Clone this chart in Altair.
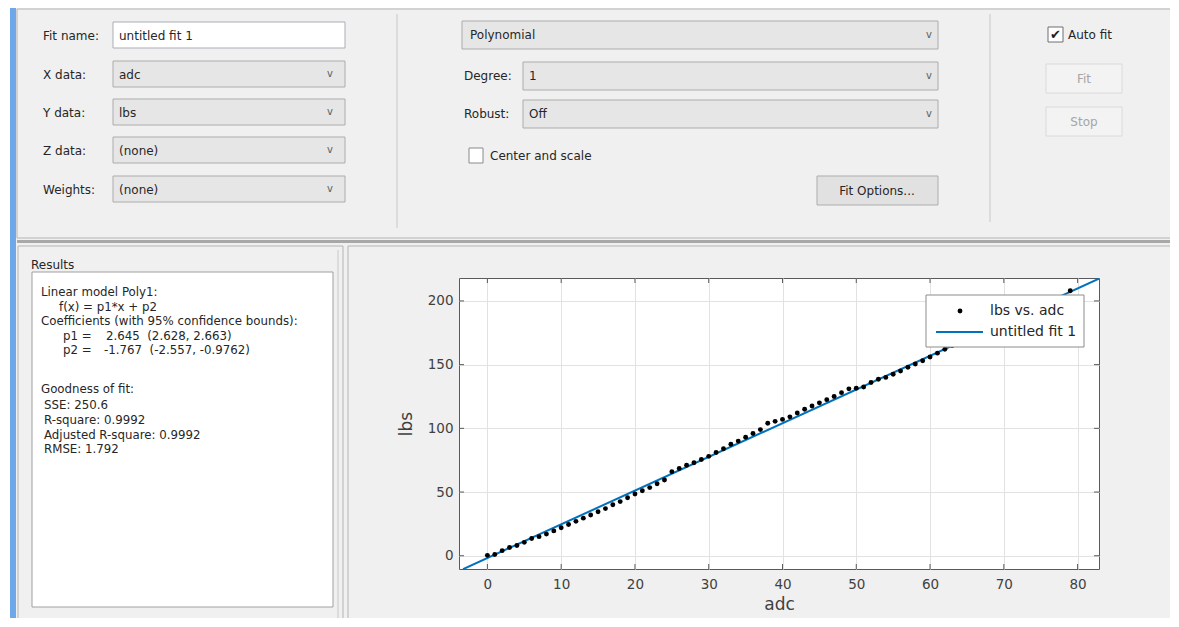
import altair as alt
import pandas as pd

# ---------------- data ----------------
adc = list(range(0, 64)) + [79]
lbs = [0.3, 1.0, 4.0, 6.5, 8.0, 10.5, 13.5, 15.0, 17.0, 19.5,
       22.0, 24.5, 27.0, 29.5, 32.0, 34.5, 37.0, 40.0, 42.5, 45.5,
       48.5, 51.0, 53.5, 56.5, 59.5, 66.0, 68.5, 71.0, 73.0, 75.5,
       78.0, 81.0, 84.0, 87.5, 90.0, 93.0, 96.0, 99.0, 104.0, 105.5,
       107.0, 109.0, 112.0, 115.0, 117.5, 120.0, 122.5, 125.0, 128.0, 131.0,
       131.5, 132.5, 136.0, 138.5, 140.0, 142.5, 145.0, 148.0, 150.5, 153.0,
       156.0, 159.0, 162.0, 165.0,
       208.0]
fit_adc = [-3.3, 82.9]
fit_lbs = [-10.5, 217.5]
x_ticks = [0, 10, 20, 30, 40, 50, 60, 70, 80]
y_ticks = [0, 50, 100, 150, 200]

NB = "\u00a0"
results_lines = [
    ("Linear model Poly1:", 41, 292),
    ("f(x) = p1*x + p2", 59, 307),
    ("Coefficients (with 95% confidence bounds):", 41, 321),
    ("p1 =", 63, 336),
    ("2.645" + NB + NB + "(2.628, 2.663)", 106, 336),
    ("p2 =", 63, 350),
    ("-1.767" + NB + NB + "(-2.557, -0.9762)", 104, 350),
    ("Goodness of fit:", 41, 389),
    ("SSE: 250.6", 44, 405),
    ("R-square: 0.9992", 44, 420),
    ("Adjusted R-square: 0.9992", 44, 435),
    ("RMSE: 1.792", 44, 449),
]

FONT = "DejaVu Sans"
TXT = "#262626"

# ---------------- UI pieces (screen coordinates) ----------------
rects = [
    # x0, x1, y0, y1, fill, stroke
    (8, 10, 0, 627, "white", "transparent"),
    (10, 16, 0, 627, "#6fa8e8", "transparent"),
    (17, 1177, 9, 238, "transparent", "#b4b4b4"),
    (17, 1177, 240, 243, "#a8a8a8", "transparent"),
    (113, 345, 22, 48, "white", "#abadb3"),
    (113, 345, 61, 87, "#e6e6e6", "#acacac"),
    (113, 345, 99, 125, "#e6e6e6", "#acacac"),
    (113, 345, 137, 163, "#e6e6e6", "#acacac"),
    (113, 345, 176, 202, "#e6e6e6", "#acacac"),
    (462, 938, 21, 49, "#e6e6e6", "#acacac"),
    (523, 938, 62, 90, "#e6e6e6", "#acacac"),
    (523, 938, 100, 128, "#e6e6e6", "#acacac"),
    (469, 483, 148, 163, "white", "#8a8a8a"),
    (817, 938, 176, 205, "#e1e1e1", "#adadad"),
    (1048, 1063, 27, 42, "white", "#6e6e6e"),
    (1046, 1122, 64, 93, "#f3f3f3", "#dadada"),
    (1046, 1122, 107, 136, "#f3f3f3", "#dadada"),
    (18, 343, 246, 625, "transparent", "#b4b4b4"),
    (32, 333, 272, 607, "white", "#a0a0a0"),
    (348, 1177, 246, 625, "transparent", "#b4b4b4"),
]
rules = [
    (397, 397, 14, 228, "#c8c8c8"),
    (990, 990, 14, 222, "#c8c8c8"),
    (338, 338, 250, 622, "#c8c8c8"),
]
texts_left = [
    ("Fit name:", 43, 36, 12, TXT),
    ("untitled fit 1", 119, 36, 12, TXT),
    ("X data:", 43, 75, 12, TXT),
    ("adc", 119, 75, 12, TXT),
    ("Y data:", 43, 113, 12, TXT),
    ("lbs", 119, 113, 12, TXT),
    ("Z data:", 43, 151, 12, TXT),
    ("(none)", 119, 151, 12, TXT),
    ("Weights:", 43, 190, 12, TXT),
    ("(none)", 119, 190, 12, TXT),
    ("Polynomial", 470, 35, 12, TXT),
    ("Degree:", 464, 76, 12, TXT),
    ("1", 529, 76, 12, TXT),
    ("Robust:", 464, 114, 12, TXT),
    ("Off", 529, 114, 12, TXT),
    ("Center and scale", 490, 156, 12, TXT),
    ("Auto fit", 1068, 35, 12, TXT),
    ("Results", 31, 265, 12, TXT),
] + [(t, x, y, 11.8, TXT) for (t, x, y) in results_lines]
texts_center = [
    ("Fit Options...", 877, 191, 12, TXT),
    ("Fit", 1084, 79, 12, "#a6a6a6"),
    ("Stop", 1084, 122, 12, "#a6a6a6"),
    ("\u2714", 1055.5, 34.5, 13, "#1e1e1e"),
    ("v", 330, 74, 10, "#606060"),
    ("v", 330, 112, 10, "#606060"),
    ("v", 330, 150, 10, "#606060"),
    ("v", 330, 189, 10, "#606060"),
    ("v", 929, 35, 10, "#606060"),
    ("v", 929, 76, 10, "#606060"),
    ("v", 929, 114, 10, "#606060"),
]
legend_rect = [(926, 1084, 295, 347, "white", "#8c8c8c")]
legend_rule = [(936, 983, 332, 332, "#0072BD")]
legend_dot = [(960, 311)]
legend_text = [("lbs vs. adc", 990, 311, 14, TXT), ("untitled fit 1", 990, 332, 14, TXT)]

# ---------------- scales ----------------
W, H = 640, 291
XS = alt.Scale(domain=[459, 1099], nice=False, zero=False)
YS = alt.Scale(domain=[278, 569], nice=False, zero=False, reverse=True)
XD = alt.Scale(domain=[-3.85, 82.9], nice=False, zero=False)
YD = alt.Scale(domain=[-10.4, 218], nice=False, zero=False)


def rect_layer(rows):
    df = pd.DataFrame(rows, columns=["x0", "x1", "y0", "y1", "fill", "stroke"])
    return alt.Chart(df).mark_rect(strokeWidth=1).encode(
        x=alt.X("x0:Q", scale=XS, axis=None), x2="x1:Q",
        y=alt.Y("y0:Q", scale=YS, axis=None), y2="y1:Q",
        fill=alt.Fill("fill:N", scale=None),
        stroke=alt.Stroke("stroke:N", scale=None),
    )


def rule_layer(rows, width=1):
    df = pd.DataFrame(rows, columns=["x0", "x1", "y0", "y1", "c"])
    return alt.Chart(df).mark_rule(strokeWidth=width).encode(
        x=alt.X("x0:Q", scale=XS, axis=None), x2="x1:Q",
        y=alt.Y("y0:Q", scale=YS, axis=None), y2="y1:Q",
        color=alt.Color("c:N", scale=None),
    )


def text_layer(rows, align):
    df = pd.DataFrame(rows, columns=["t", "x", "y", "s", "c"])
    return alt.Chart(df).mark_text(align=align, baseline="middle", font=FONT).encode(
        x=alt.X("x:Q", scale=XS, axis=None),
        y=alt.Y("y:Q", scale=YS, axis=None),
        text="t:N",
        size=alt.Size("s:Q", scale=None),
        color=alt.Color("c:N", scale=None),
    )


# ---------------- plot ----------------
pts_df = pd.DataFrame({"adc": adc, "lbs": lbs})
fit_df = pd.DataFrame({"adc": fit_adc, "lbs": fit_lbs})

axis_common = dict(grid=True, ticks=False, domain=False, gridColor="#e2e2e2",
                   labelFont=FONT, titleFont=FONT, labelFontSize=13.5,
                   titleFontSize=17, labelColor="#404040", titleColor="#404040",
                   titleFontWeight="normal")

fit_line = alt.Chart(fit_df).mark_line(color="#0072BD", strokeWidth=2, clip=True).encode(
    x=alt.X("adc:Q", scale=XD, axis=None),
    y=alt.Y("lbs:Q", scale=YD, axis=None),
)
points = alt.Chart(pts_df).mark_circle(size=24, color="black", opacity=1).encode(
    x=alt.X("adc:Q", scale=XD, axis=alt.Axis(values=x_ticks, title="adc",
                                              labelPadding=8, titlePadding=6, **axis_common)),
    y=alt.Y("lbs:Q", scale=YD, axis=alt.Axis(values=y_ticks, title="lbs",
                                              labelPadding=6, titlePadding=12, **axis_common)),
)

tx_df = pd.DataFrame({"t": x_ticks})
ty_df = pd.DataFrame({"t": y_ticks})
tick_c = "#5a5a5a"
ticks_bottom = alt.Chart(tx_df).mark_rule(color=tick_c).encode(
    x=alt.X("t:Q", scale=XD, axis=None), y=alt.value(H), y2=alt.value(H - 5))
ticks_top = alt.Chart(tx_df).mark_rule(color=tick_c).encode(
    x=alt.X("t:Q", scale=XD, axis=None), y=alt.value(0), y2=alt.value(5))
ticks_left = alt.Chart(ty_df).mark_rule(color=tick_c).encode(
    y=alt.Y("t:Q", scale=YD, axis=None), x=alt.value(0), x2=alt.value(5))
ticks_right = alt.Chart(ty_df).mark_rule(color=tick_c).encode(
    y=alt.Y("t:Q", scale=YD, axis=None), x=alt.value(W), x2=alt.value(W - 5))

dot_df = pd.DataFrame(legend_dot, columns=["x", "y"])
legend_dot_layer = alt.Chart(dot_df).mark_circle(size=24, color="black", opacity=1).encode(
    x=alt.X("x:Q", scale=XS, axis=None), y=alt.Y("y:Q", scale=YS, axis=None))

chart = alt.layer(
    rect_layer(rects),
    rule_layer(rules),
    text_layer(texts_left, "left"),
    text_layer(texts_center, "center"),
    fit_line,
    points,
    ticks_bottom, ticks_top, ticks_left, ticks_right,
    rect_layer(legend_rect),
    rule_layer(legend_rule, width=2),
    legend_dot_layer,
    text_layer(legend_text, "left"),
).resolve_scale(
    x="independent", y="independent"
).properties(
    width=W, height=H,
    padding={"left": 451, "top": 270, "right": 71, "bottom": 49},
    autosize=alt.AutoSizeParams(type="none"),
    background="#f0f0f0",
).configure_view(
    fill="white", stroke="#5a5a5a", strokeWidth=1
)

chart.save("out.html", embed_options={"renderer": "svg", "actions": False})
